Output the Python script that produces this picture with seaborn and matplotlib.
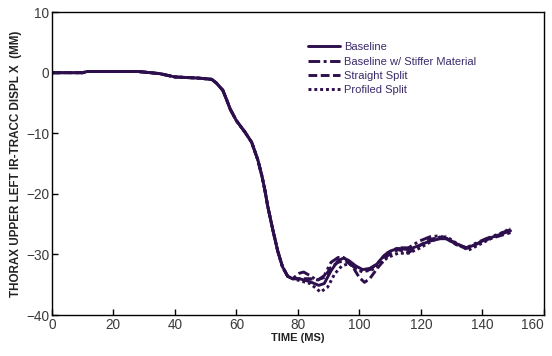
import numpy as np
import pandas as pd
import matplotlib
matplotlib.use("Agg")
import matplotlib.pyplot as plt
import seaborn as sns

# Shared early portion (all four curves coincide)
t_common = [0, 10, 11.5, 28, 35, 40, 48, 52, 53.5, 55.6, 56.8, 58, 60, 62.8, 65, 67, 68.3, 69.3, 70.2, 71.9, 73.5, 75, 76.7, 78.3]
y_common = [0, 0, 0.2, 0.2, -0.15, -0.7, -0.9, -1.1, -1.7, -2.9, -4.4, -6.0, -7.9, -9.8, -11.5, -14.4, -17.0, -19.4, -22.0, -26.0, -29.5, -32.0, -33.6, -34.0]

t_baseline = [80.5, 84, 86.8, 88.6, 90.8, 93.1, 94.9, 96.6, 98.9, 101.1, 103.4, 105.7, 108, 110.3, 112.6, 116, 119.5, 122.9, 126.3, 128.6, 132, 134.9, 137.2, 141.2, 145.8, 149.2]
y_baseline = [-34.0, -34.5, -35.1, -34.8, -32.7, -31.0, -30.6, -31.0, -31.9, -32.5, -32.3, -31.6, -30.2, -29.4, -29.0, -29.2, -28.5, -27.8, -27.4, -27.4, -28.3, -28.9, -28.5, -27.5, -26.7, -26.1]

t_stiffer = [80.5, 81.9, 84, 86.3, 88.6, 90.8, 93.1, 94.9, 96.6, 98.9, 101.1, 103.4, 105.7, 109.2, 112.6, 116, 119.5, 122.9, 126.3, 128.6, 132, 134.9, 137.2, 141.2, 149.2]
y_stiffer = [-33.1, -32.9, -33.5, -34.3, -33.5, -31.3, -30.5, -30.5, -31.3, -32.4, -32.9, -32.5, -31.6, -29.7, -28.9, -28.9, -27.8, -27.1, -26.9, -27.5, -28.5, -28.9, -28.3, -27.4, -25.9]

t_straight = [80.5, 84, 86.3, 88.6, 90.8, 93.1, 95.4, 97.7, 100, 101.7, 103.4, 105.7, 109.2, 112.6, 116, 119.5, 122.9, 126.3, 128.6, 132, 134.9, 137.2, 141.2, 149.2]
y_straight = [-34.0, -34.0, -34.2, -33.8, -32.1, -31.3, -31.0, -31.9, -33.8, -34.6, -34.0, -32.4, -30.2, -29.2, -29.7, -28.6, -27.5, -27.2, -27.4, -28.5, -29.0, -28.5, -27.6, -26.4]

t_profiled = [80.5, 84, 87.4, 89.7, 92, 94.3, 96.6, 98.9, 101.1, 103.4, 105.7, 109.2, 112.6, 116, 119.5, 122.9, 126.3, 128.6, 132, 135.5, 137.8, 141.2, 149.2]
y_profiled = [-34.3, -34.8, -36.2, -35.4, -33.2, -31.9, -31.5, -32.2, -32.7, -32.7, -32.1, -30.5, -29.8, -29.8, -29.0, -28.0, -27.1, -27.1, -28.3, -29.3, -28.7, -27.8, -25.7]

series_names = ["Baseline", "Baseline w/ Stiffer Material", "Straight Split", "Profiled Split"]
series_t = [t_baseline, t_stiffer, t_straight, t_profiled]
series_y = [y_baseline, y_stiffer, y_straight, y_profiled]

x_ticks = [0, 20, 40, 60, 80, 100, 120, 140, 160]
y_ticks = [-40, -30, -20, -10, 0, 10]

frames = []
for name, tt, yy in zip(series_names, series_t, series_y):
    frames.append(pd.DataFrame({"t": t_common + tt, "y": y_common + yy, "series": name}))
df = pd.concat(frames, ignore_index=True)

sns.set_theme(style="white")
plt.rcParams['font.family'] = ['Liberation Sans', 'DejaVu Sans']

line_color = "#2c0f4c"
fig = plt.figure(figsize=(5.52, 3.56), dpi=100)
ax = fig.add_axes([0.094, 0.115, 0.891, 0.851])

dashes = {
    "Baseline": "",
    "Baseline w/ Stiffer Material": (4, 1.2, 1, 1.2),
    "Straight Split": (3, 1.2),
    "Profiled Split": (1, 1),
}
sns.lineplot(data=df, x="t", y="y", hue="series", style="series",
             palette={n: line_color for n in series_names}, dashes=dashes,
             hue_order=series_names, style_order=series_names,
             linewidth=2.1, ax=ax, sort=False, estimator=None)

ax.set_xlim(0, 160)
ax.set_ylim(-40, 10)
ax.set_xticks(x_ticks)
ax.set_yticks(y_ticks)
ax.tick_params(axis="both", direction="in", length=4, width=1, colors="black",
               labelcolor="#3a3a3a", labelsize=9.8, pad=2,
               bottom=True, left=True, top=False, right=False)
xl = ax.get_xticklabels()
xl[-1].set_horizontalalignment("right")
for s in ax.spines.values():
    s.set_color("black")
    s.set_linewidth(1.0)

ax.set_xlabel("TIME (MS)", fontsize=8, fontweight="bold", color="#222222", labelpad=1)
ax.set_ylabel("THORAX UPPER LEFT IR-TRACC DISPL X  (MM)", fontsize=8.4, fontweight="bold",
              color="#222222", labelpad=3)

leg = ax.legend(loc="upper left", bbox_to_anchor=(0.512, 0.915), frameon=False,
                fontsize=8.0, handlelength=2.9, handletextpad=0.3, labelspacing=0.38,
                borderaxespad=0)
for txt in leg.get_texts():
    txt.set_color("#3a2a6a")
for h in leg.get_lines():
    h.set_linewidth(2.1)

fig.savefig("out.png", dpi=100)
